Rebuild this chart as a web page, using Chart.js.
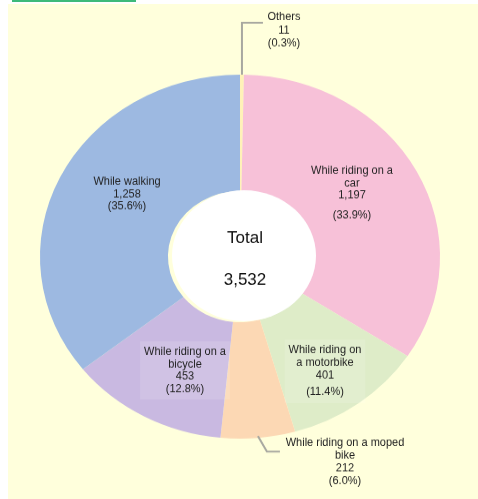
<!DOCTYPE html>
<html>
<head>
<meta charset="utf-8">
<script src="https://cdn.jsdelivr.net/npm/chart.js@4.4.1/dist/chart.umd.min.js"></script>
<style>
  html, body { margin: 0; padding: 0; background: #fff; width: 478px; height: 499px; overflow: hidden; }
  #bg { position: absolute; left: 8px; top: 4px; width: 470px; height: 495px; background: #FFFFDC; }
  #bar { position: absolute; left: 12px; top: 0; width: 124px; height: 2px; background: #3DBA7A; }
  /* the reference picture is squashed vertically, so the whole chart is too */
  #wrap { position: absolute; left: 0; top: 0; width: 478px; height: 548px; transform: scaleY(0.91); transform-origin: 0 0; }
</style>
</head>
<body>
<div id="bg"></div>
<div id="bar"></div>
<div id="wrap"><canvas id="chart" width="478" height="548"></canvas></div>
<script>
// data, clockwise from 12 o'clock
const categories = ['Others', 'While riding on a car', 'While riding on a motorbike', 'While riding on a moped bike', 'While riding on a bicycle', 'While walking'];
const counts = [11, 1197, 401, 212, 453, 1258];
const shares = ['0.3%', '33.9%', '11.4%', '6.0%', '12.8%', '35.6%'];
const labelLines = [['Others'], ['While riding on a', 'car'], ['While riding on', 'a motorbike'], ['While riding on a moped', 'bike'], ['While riding on a', 'bicycle'], ['While walking']];
const totalTitle = 'Total';

const SQUASH = 0.91;
const colors = ['#FFF2B8', '#F7C1D8', '#DEECC8', '#FCD8B4', '#C9B9E1', '#9DB9E1'];

// where each label block sits, relative to the pie centre (first line, line height, extra gap before %)
const labelPlace = [
    { dx: 44, dy: -263, lh: 14.3, gap: 0, box: false },
    { dx: 112, dy: -94, lh: 13.5, gap: 8, box: false },
    { dx: 85, dy: 103, lh: 14, gap: 4, box: true },
    { dx: 105, dy: 205, lh: 14, gap: 0, box: false },
    { dx: -55, dy: 105, lh: 13.5, gap: 0, box: true },
    { dx: -113, dy: -82, lh: 13.5, gap: 0, box: false }
];

const total = counts.reduce((a, b) => a + b, 0);
const fmt = n => n.toLocaleString('en-US');
const FONT = '"Liberation Sans", Arial, sans-serif';

function outerPoint(arc, r) {
    const mid = (arc.startAngle + arc.endAngle) / 2;
    return { x: arc.x + Math.cos(mid) * r, y: arc.y + Math.sin(mid) * r };
}

// text is drawn un-squashed so it keeps normal proportions
function text(ctx, t, x, y) {
    ctx.save();
    ctx.translate(x, y);
    ctx.scale(1, 1 / SQUASH);
    ctx.fillText(t, 0, 0);
    ctx.restore();
}

const donutExtras = {
    id: 'donutExtras',
    afterDatasetsDraw(chart) {
        const ctx = chart.ctx;
        const arcs = chart.getDatasetMeta(0).data;
        const cx = arcs[0].x, cy = arcs[0].y;
        ctx.save();

        // white hole over the middle
        ctx.fillStyle = '#fff';
        ctx.beginPath();
        ctx.arc(cx + 4, cy - 1, arcs[0].innerRadius, 0, Math.PI * 2);
        ctx.fill();

        // leader lines
        ctx.strokeStyle = '#A8A8A0';
        ctx.lineWidth = 2;
        let p = outerPoint(arcs[0], arcs[0].outerRadius);
        ctx.beginPath();
        ctx.moveTo(p.x, p.y);
        ctx.lineTo(p.x, cy - 257);
        ctx.lineTo(p.x + 21, cy - 257);
        ctx.stroke();

        p = outerPoint(arcs[3], arcs[3].outerRadius - 2);
        ctx.beginPath();
        ctx.moveTo(p.x, p.y);
        ctx.lineTo(p.x + 9, p.y + 17);
        ctx.lineTo(p.x + 22, p.y + 17);
        ctx.stroke();

        // slice labels
        ctx.font = '11px ' + FONT;
        ctx.textAlign = 'center';
        ctx.textBaseline = 'middle';
        labelLines.forEach((lines, i) => {
            const pl = labelPlace[i];
            const all = lines.concat([fmt(counts[i])]);
            if (pl.box) {
                const w = Math.max(...all.map(t => ctx.measureText(t).width)) + 8;
                const h = pl.lh * (all.length + 1) + pl.gap + 10;
                ctx.fillStyle = 'rgba(255,255,255,0.13)';
                ctx.fillRect(cx + pl.dx - w / 2, cy + pl.dy - 12, w, h);
            }
            ctx.fillStyle = '#222';
            let y = cy + pl.dy;
            all.forEach(t => {
                text(ctx, t, cx + pl.dx, y);
                y += pl.lh;
            });
            text(ctx, '(' + shares[i] + ')', cx + pl.dx, y + pl.gap);
        });

        // centre text
        ctx.font = '17px ' + FONT;
        ctx.fillStyle = '#111';
        text(ctx, totalTitle, cx + 5, cy - 20);
        text(ctx, fmt(total), cx + 5, cy + 26);
        ctx.restore();
    }
};

new Chart(document.getElementById('chart'), {
    type: 'doughnut',
    data: {
        labels: categories,
        datasets: [{
            data: counts,
            backgroundColor: colors,
            borderWidth: 0
        }]
    },
    options: {
        responsive: false,
        animation: false,
        cutout: '36%',
        layout: { padding: { left: 40, right: 38, top: 82, bottom: 66 } },
        plugins: {
            legend: { display: false },
            tooltip: { enabled: false }
        }
    },
    plugins: [donutExtras]
});
</script>
</body>
</html>
